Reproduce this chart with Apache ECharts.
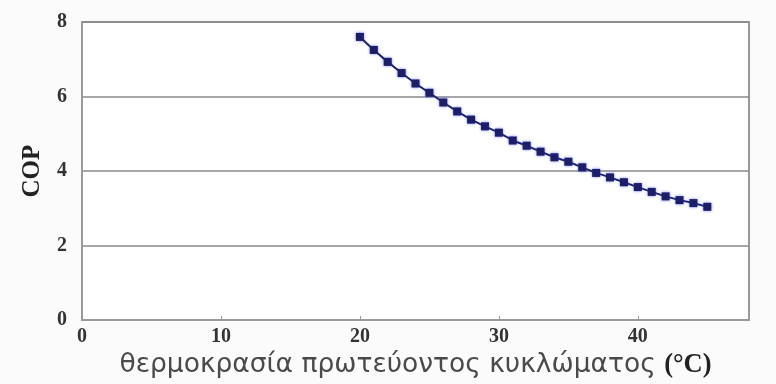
<!DOCTYPE html>
<html>
<head>
<meta charset="utf-8">
<script src="https://cdn.jsdelivr.net/npm/echarts@6/dist/echarts.min.js"></script>
<style>
html,body{margin:0;padding:0;background:#fbfbfb;}
#chart{width:776px;height:384px;}
</style>
</head>
<body>
<div id="chart"></div>
<script>
const temps = [20,21,22,23,24,25,26,27,28,29,30,31,32,33,34,35,36,37,38,39,40,41,42,43,44,45];
const cop = [7.6,7.25,6.93,6.63,6.35,6.1,5.84,5.6,5.38,5.2,5.03,4.82,4.68,4.52,4.37,4.25,4.1,3.95,3.83,3.7,3.57,3.44,3.32,3.22,3.14,3.04];
const xTicks = [0,10,20,30,40];
const yTicks = [0,2,4,6,8];
const xName = 'θερμοκρασία πρωτεύοντος κυκλώματος ';
const xUnit = '(°C)';
const yName = 'COP';

const chart = echarts.init(document.getElementById('chart'));
const labelStyle = {fontFamily:'Liberation Serif', fontWeight:'bold', fontSize:20, color:'#333'};
chart.setOption({
  backgroundColor:'#fbfbfb',
  animation:false,
  grid:{left:82, right:27, top:22, bottom:62, show:true, borderColor:'#999', borderWidth:2, backgroundColor:'#ffffff'},
  xAxis:{
    type:'value', min:0, max:48, interval:10,
    axisLine:{show:true, lineStyle:{color:'#999', width:2}},
    axisTick:{show:true, inside:true, length:4, lineStyle:{color:'#999'}},
    splitLine:{show:false},
    axisLabel:Object.assign({margin:7, showMaxLabel:false, formatter:v => xTicks.includes(v) ? String(v) : ''}, labelStyle),
    name: '{a|' + xName + '}{b|' + xUnit + '}',
    nameLocation:'middle', nameGap:18,
    nameTextStyle:{rich:{
      a:{fontFamily:'DejaVu Sans', fontSize:26.5, color:'#4a4a4a'},
      b:{fontFamily:'Liberation Serif', fontWeight:'bold', fontSize:26.5, color:'#222'}
    }}
  },
  yAxis:{
    type:'value', min:0, max:8, interval:2,
    axisLine:{show:true, lineStyle:{color:'#999', width:2}},
    axisTick:{show:false},
    splitLine:{show:true, lineStyle:{color:'#8a8a8a', width:1.5}},
    axisLabel:Object.assign({margin:15, formatter:v => yTicks.includes(v) ? String(v) : ''}, labelStyle),
    name:yName, nameLocation:'middle', nameGap:37, nameRotate:90,
    nameTextStyle:{fontFamily:'Liberation Serif', fontWeight:'bold', fontSize:25, color:'#222'}
  },
  series:[{
    type:'line',
    data:temps.map((t,i)=>[t,cop[i]]),
    symbol:'rect', symbolSize:8, showSymbol:true,
    lineStyle:{color:'#1d2270', width:2},
    itemStyle:{color:'#1c1f66', shadowBlur:3, shadowColor:'rgba(60,70,255,0.7)'}
  }]
});
</script>
</body>
</html>
